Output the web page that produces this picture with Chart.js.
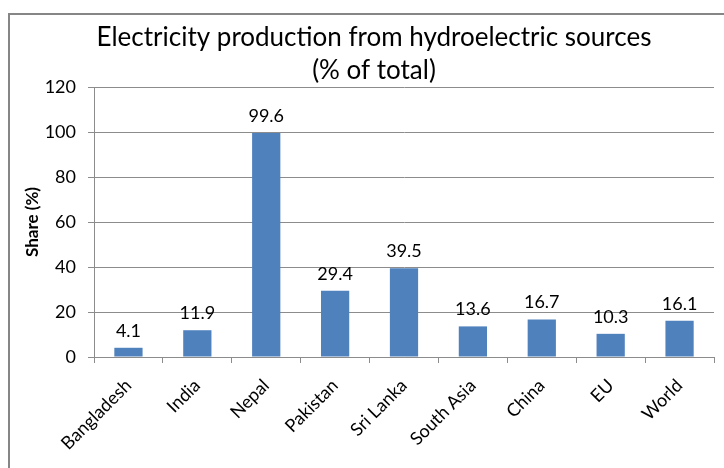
<!DOCTYPE html>
<html>
<head>
<meta charset="utf-8">
<script src="https://cdn.jsdelivr.net/npm/chart.js@4.4.1/dist/chart.umd.min.js"></script>
<style>
  html, body { margin: 0; padding: 0; background: #fff; }
  #wrap { width: 724px; height: 468px; }
</style>
</head>
<body>
<div id="wrap"><canvas id="chart" width="724" height="468"></canvas></div>
<script>
// data
const countries = ['Bangladesh', 'India', 'Nepal', 'Pakistan', 'Sri Lanka', 'South Asia', 'China', 'EU', 'World'];
const hydroShare = [4.1, 11.9, 99.6, 29.4, 39.5, 13.6, 16.7, 10.3, 16.1];
const titleLines = ['Electricity production from hydroelectric sources', '(% of total)'];

const FONT = 'Lato, "Open Sans", sans-serif';

// frame + title, drawn like the office chart box
const frameAndTitle = {
    id: 'frameAndTitle',
    beforeDraw(chart) {
        const c = chart.ctx;
        c.save();
        c.strokeStyle = '#868686';
        c.lineWidth = 2;
        c.beginPath();
        c.moveTo(9, 480);
        c.lineTo(9, 14);
        c.lineTo(730, 14);
        c.stroke();
        c.fillStyle = '#000';
        c.font = '26px ' + FONT;
        c.textAlign = 'center';
        c.textBaseline = 'middle';
        c.fillText(titleLines[0], 374, 38);
        c.fillText(titleLines[1], 374, 71);
        c.restore();
    }
};

// value labels over each bar
const barValues = {
    id: 'barValues',
    afterDatasetsDraw(chart) {
        const c = chart.ctx;
        const meta = chart.getDatasetMeta(0);
        c.save();
        c.fillStyle = '#000';
        c.font = '18px ' + FONT;
        c.textAlign = 'center';
        c.textBaseline = 'bottom';
        meta.data.forEach((bar, i) => {
            c.fillText(hydroShare[i].toFixed(1), bar.x, bar.y - 8);
        });
        c.restore();
    }
};

new Chart(document.getElementById('chart').getContext('2d'), {
    type: 'bar',
    data: {
        labels: countries,
        datasets: [{
            data: hydroShare,
            backgroundColor: '#4F81BD',
            borderWidth: 0,
            barPercentage: 0.41,
            categoryPercentage: 1
        }]
    },
    options: {
        responsive: false,
        animation: false,
        layout: { padding: { top: 87, right: 10, left: 0, bottom: 0 } },
        scales: {
            y: {
                min: 0,
                max: 120,
                ticks: { stepSize: 20, color: '#000', font: { size: 18, family: FONT }, padding: 12 },
                grid: { color: '#8c8c8c', tickLength: 6 },
                border: { color: '#8c8c8c' },
                title: {
                    display: true,
                    text: 'Share (%)',
                    color: '#000',
                    font: { size: 17, weight: 'bold', family: FONT },
                    padding: { top: 22, bottom: 0 }
                },
                afterFit(scale) { scale.width = 94; }
            },
            x: {
                ticks: {
                    color: '#000',
                    font: { size: 18, family: FONT },
                    minRotation: 45,
                    maxRotation: 45,
                    padding: 12
                },
                grid: { display: true, drawOnChartArea: false, color: '#8c8c8c', tickLength: 6, offset: true },
                border: { color: '#8c8c8c' },
                afterFit(scale) { scale.height = 111; }
            }
        },
        plugins: {
            legend: { display: false },
            title: { display: false },
            tooltip: { enabled: false }
        }
    },
    plugins: [frameAndTitle, barValues]
});
</script>
</body>
</html>
